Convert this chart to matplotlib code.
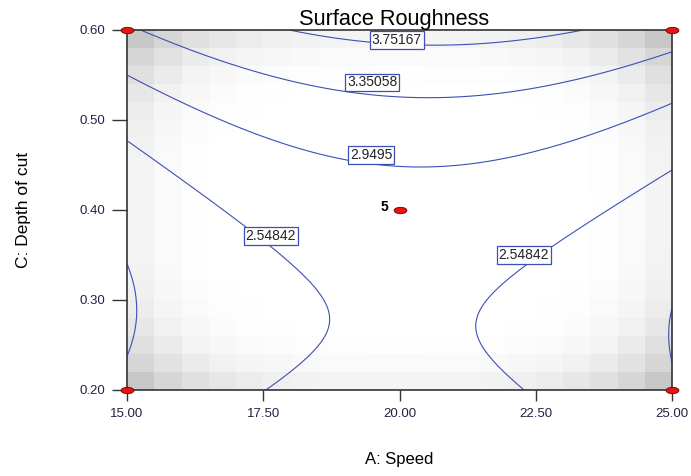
import numpy as np
import matplotlib
matplotlib.use("Agg")
import matplotlib.pyplot as plt
from matplotlib.path import Path
from matplotlib.transforms import Affine2D

plt.rcParams['font.family'] = ['Liberation Sans', 'DejaVu Sans']

# factor ranges (actual units)
speed_range = [15.0, 25.0]
depth_range = [0.20, 0.60]

# fitted quadratic model, coded units: b0, A, C, AC, A^2, C^2
coef = {'b0': 2.7725, 'A': 0.0535, 'C': 0.6125, 'AC': 0.0685, 'A2': -0.453, 'C2': 0.49}

# contour levels shown by Design-Expert
levels = [2.14733, 2.54842, 2.9495, 3.35058, 3.75167]

# labels on the contours and where they sit
label_text = ['3.75167', '3.35058', '2.9495', '2.54842', '2.54842']
label_pos = [(19.95, 0.589), (19.50, 0.542), (19.48, 0.461), (17.64, 0.371), (22.28, 0.350)]

# Box-Behnken design (coded A, B, C), 5 centre points
design = [(-1, -1, 0), (1, -1, 0), (-1, 1, 0), (1, 1, 0),
          (-1, 0, -1), (1, 0, -1), (-1, 0, 1), (1, 0, 1),
          (0, -1, -1), (0, 1, -1), (0, -1, 1), (0, 1, 1),
          (0, 0, 0), (0, 0, 0), (0, 0, 0), (0, 0, 0), (0, 0, 0)]

# design points visible in the A-C slice
pt_speed = [15, 25, 15, 25, 20]
pt_depth = [0.20, 0.20, 0.60, 0.60, 0.40]


def code(v, rng):
    return (np.asarray(v) - (rng[0] + rng[1]) / 2) / ((rng[1] - rng[0]) / 2)


def terms(a, b, c):
    return np.column_stack([np.ones_like(a), a, b, c, a * b, a * c, b * c, a * a, b * b, c * c])


# response surface
xs = np.linspace(*speed_range, 121)
ys = np.linspace(*depth_range, 121)
XX, YY = np.meshgrid(xs, ys)
A = code(XX, speed_range)
C = code(YY, depth_range)
Z = (coef['b0'] + coef['A'] * A + coef['C'] * C + coef['AC'] * A * C
     + coef['A2'] * A ** 2 + coef['C2'] * C ** 2)

# standard error shading on a 20x20 grid
d = np.array(design, dtype=float)
Xd = terms(d[:, 0], d[:, 1], d[:, 2])
inv = np.linalg.inv(Xd.T @ Xd)
ex = np.linspace(*speed_range, 21)
ey = np.linspace(*depth_range, 21)
cx = (ex[:-1] + ex[1:]) / 2
cy = (ey[:-1] + ey[1:]) / 2
CX, CY = np.meshgrid(cx, cy)
ca = code(CX, speed_range).ravel()
cc = code(CY, depth_range).ravel()
F = terms(ca, np.zeros_like(ca), cc)
se = np.sqrt(np.einsum('ij,jk,ik->i', F, inv, F)).reshape(CX.shape)
t = np.clip((se - se.min()) / (se.max() - se.min()), 0, 1)
shade = 1 - 0.22 * t ** 1.6

fig = plt.figure(figsize=(6.91, 4.76), dpi=100)
ax = fig.add_axes([127 / 691, 86 / 476, 545 / 691, 360 / 476])

ax.pcolormesh(ex, ey, shade, cmap='gray', vmin=0, vmax=1, shading='flat')

ax.contour(XX, YY, Z, levels=levels, colors='#3c50b4', linewidths=0.8)
for txt, (lx, ly) in zip(label_text, label_pos):
    ax.text(lx, ly, txt, ha='center', va='center', fontsize=10, color='#222222', zorder=4,
            bbox=dict(facecolor='white', edgecolor='#3c50b4', linewidth=0.9, pad=1.2))

oval = Path.unit_circle().transformed(Affine2D().scale(1.0, 0.5))
ax.scatter(pt_speed, pt_depth, marker=oval, s=85, c='#ee1111', edgecolors='#660000',
           linewidths=0.6, zorder=5, clip_on=False)
ax.text(pt_speed[-1] - 0.2, pt_depth[-1] + 0.003, '5', ha='right', va='center',
        fontsize=10, fontweight='bold', color='black')

ax.set_xlim(*speed_range)
ax.set_ylim(*depth_range)
ax.set_xticks([15, 17.5, 20, 22.5, 25])
ax.set_xticklabels(['15.00', '17.50', '20.00', '22.50', '25.00'])
ax.set_yticks([0.2, 0.3, 0.4, 0.5, 0.6])
ax.set_yticklabels(['0.20', '0.30', '0.40', '0.50', '0.60'])
ax.tick_params(direction='out', width=1, colors='#333333', labelsize=9.5,
               labelcolor='#222244')
ax.tick_params(axis='x', length=8, pad=5)
ax.tick_params(axis='y', length=10.5, pad=5)
for s in ax.spines.values():
    s.set_color('#333333')
    s.set_linewidth(1.2)

ax.set_title('Surface Roughness', fontsize=15.7, pad=3, x=0.49)
ax.set_xlabel('A: Speed', fontsize=12, labelpad=23)
ax.set_ylabel('C: Depth of cut', fontsize=12.5, labelpad=35)

fig.savefig('out.png', dpi=100)
